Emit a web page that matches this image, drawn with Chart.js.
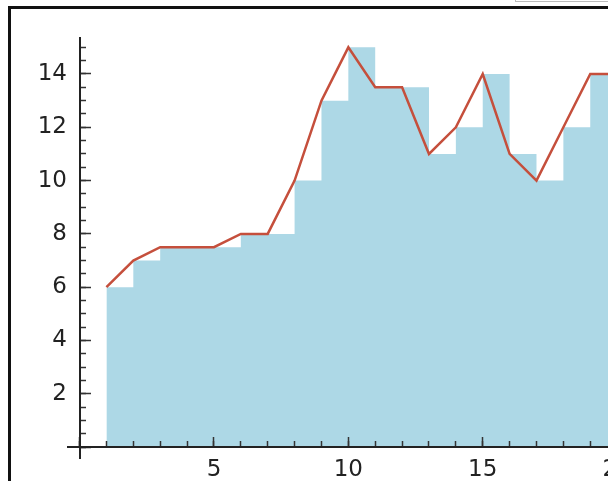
<!DOCTYPE html>
<html>
<head>
<meta charset="utf-8">
<script src="https://cdn.jsdelivr.net/npm/chart.js@4.4.1/dist/chart.umd.min.js"></script>
<style>
  html, body { margin: 0; padding: 0; background: #fff; }
  #wrap { position: relative; width: 608px; height: 481px; overflow: hidden; }
  #frame { position: absolute; left: 8px; top: 6px; width: 700px; height: 600px;
           border-left: 3px solid #111; border-top: 3px solid #111; }
  #tab { position: absolute; left: 515px; top: -20px; width: 120px; height: 20px;
         border: 1px solid #bbb; background: #fff; }
  #chart { position: absolute; left: 0; top: 0; }
</style>
</head>
<body>
<div id="wrap">
  <div id="frame"></div>
  <div id="tab"></div>
  <canvas id="chart" width="660" height="481"></canvas>
</div>
<script>
// data
const xs = [1, 2, 3, 4, 5, 6, 7, 8, 9, 10, 11, 12, 13, 14, 15, 16, 17, 18, 19, 20];
const values = [6, 7, 7.5, 7.5, 7.5, 8, 8, 10, 13, 15, 13.5, 13.5, 11, 12, 14, 11, 10, 12, 14, 14];
const xTicksMajor = [5, 10, 15, 20];
const yTicksMajor = [2, 4, 6, 8, 10, 12, 14];

const X_MIN = -0.43, X_MAX = 21;
const Y_MIN = -0.41, Y_MAX = 15.35;

const linePoints = xs.map((x, i) => ({ x: x, y: values[i] }));
// step outline: each value holds from x to x+1
const stepPoints = linePoints.concat([{ x: xs[xs.length - 1] + 1, y: values[values.length - 1] }]);

Chart.defaults.font.family = 'DejaVu Sans';
Chart.defaults.font.size = 23;
Chart.defaults.color = '#222';

// axis drawn on top of the fill, ticks pointing into the plot (negative length)
const tickAxis = (axis, pos, step, len, withBorder) => ({
  type: 'linear',
  axis: axis,
  position: pos,
  min: axis === 'x' ? X_MIN : Y_MIN,
  max: axis === 'x' ? X_MAX : Y_MAX,
  ticks: { display: false, stepSize: step, includeBounds: false },
  grid: { display: true, drawOnChartArea: false, drawTicks: true, tickLength: len,
          tickColor: '#333', tickWidth: 1.5, z: 1 },
  border: { display: withBorder, color: '#222', width: 2, z: 2 }
});

const ctx = document.getElementById('chart').getContext('2d');
const chart = new Chart(ctx, {
  type: 'line',
  data: {
    datasets: [
      {
        label: 'line',
        data: linePoints,
        borderColor: '#c54f3c',
        borderWidth: 2.5,
        pointRadius: 0,
        fill: false,
        tension: 0
      },
      {
        label: 'steps',
        data: stepPoints,
        stepped: 'before',
        borderWidth: 0,
        borderColor: 'rgba(0,0,0,0)',
        backgroundColor: '#add8e6',
        pointRadius: 0,
        fill: 'origin'
      }
    ]
  },
  options: {
    responsive: false,
    animation: false,
    devicePixelRatio: 1,
    layout: { padding: { left: 8, top: 38, right: 16, bottom: 23 } },
    plugins: { legend: { display: false }, tooltip: { enabled: false } },
    scales: {
      x: {
        type: 'linear',
        position: { y: 0 },
        min: X_MIN,
        max: X_MAX,
        afterBuildTicks: (s) => { s.ticks = [{ value: 0 }].concat(xTicksMajor.map(v => ({ value: v }))); },
        ticks: {
          autoSkip: false,
          maxRotation: 0,
          padding: 20,
          callback: (v) => (v === 0 ? '' : v)
        },
        grid: { display: true, drawOnChartArea: false, drawTicks: true, tickLength: -11,
                tickColor: '#333', tickWidth: 1.5, z: 1 },
        border: { display: true, color: '#222', width: 2, z: 2 }
      },
      xm: tickAxis('x', { y: 0 }, 1, -6, false),
      y: {
        type: 'linear',
        position: 'left',
        min: Y_MIN,
        max: Y_MAX,
        afterBuildTicks: (s) => { s.ticks = yTicksMajor.map(v => ({ value: v })); },
        afterFit: (s) => { s.width = 60; },
        ticks: { autoSkip: false, padding: 1 },
        grid: { display: false, drawTicks: false },
        border: { display: false }
      },
      ym: tickAxis('y', { x: 0 }, 2, -12, true),
      yn: tickAxis('y', { x: 0 }, 0.5, -6, false)
    }
  }
});
</script>
</body>
</html>
